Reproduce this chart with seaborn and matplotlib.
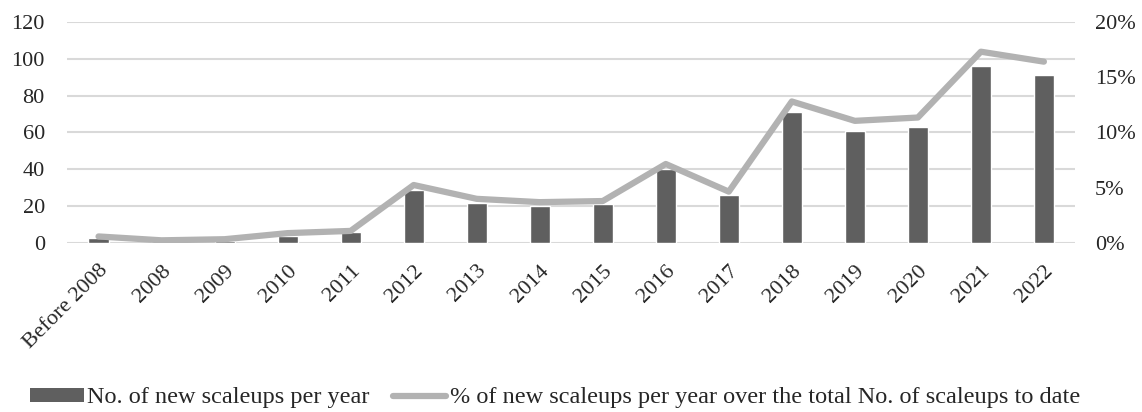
import matplotlib
matplotlib.use("Agg")
import matplotlib.pyplot as plt
import seaborn as sns
import pandas as pd
from matplotlib.patches import Patch
from matplotlib.lines import Line2D
from matplotlib.ticker import FuncFormatter

years = ["Before 2008", "2008", "2009", "2010", "2011", "2012", "2013", "2014",
         "2015", "2016", "2017", "2018", "2019", "2020", "2021", "2022"]
new_scaleups = [3, 0.5, 1, 4, 6, 29, 22, 20, 21, 40, 26, 71, 61, 63, 96, 91]
share_pct = [0.6, 0.25, 0.35, 0.9, 1.1, 5.25, 4.0, 3.7, 3.8, 7.15, 4.65,
             12.8, 11.05, 11.35, 17.3, 16.4]

bar_label = "No. of new scaleups per year"
line_label = "% of new scaleups per year over the total No. of scaleups to date"

sns.set_theme(style="white")
plt.rcParams["font.family"] = ["Liberation Serif", "DejaVu Serif"]

df = pd.DataFrame({"year": years, "n": new_scaleups, "pct": share_pct})

fig = plt.figure(figsize=(11.42, 4.12), dpi=100)
ax = fig.add_axes([0.0587, 0.41, 0.883, 0.537])

bar_color = "#5f5f5f"
line_color = "#b2b2b2"
grid_color = "#d9d9d9"
tick_fs = 16

sns.barplot(data=df, x="year", y="n", color=bar_color, width=0.32,
            saturation=1, ax=ax, zorder=2)
ax.set_ylim(0, 120)
ax.set_yticks(range(0, 121, 20))
ax.set_xlim(-0.5, len(years) - 0.5)
ax.grid(axis="y", color=grid_color, linewidth=1.5, zorder=0)
ax.set_axisbelow(True)
ax.set_xlabel("")
ax.set_ylabel("")
ax.tick_params(axis="y", labelsize=tick_fs, length=0, pad=16)
ax.tick_params(axis="x", labelsize=tick_fs, length=0, pad=13)
for lbl in ax.get_xticklabels():
    lbl.set_rotation(45)
    lbl.set_ha("right")
    lbl.set_rotation_mode("anchor")
for s in ax.spines.values():
    s.set_visible(False)

ax2 = ax.twinx()
sns.lineplot(x=list(range(len(years))), y=share_pct, ax=ax2, color=line_color,
             linewidth=4.5, zorder=3)
ax2.set_ylim(0, 20)
ax2.set_yticks(range(0, 21, 5))
ax2.yaxis.set_major_formatter(FuncFormatter(lambda v, p: f"{int(v)}%"))
ax2.tick_params(axis="y", labelsize=tick_fs, length=0, pad=14)
for s in ax2.spines.values():
    s.set_visible(False)

handles = [Patch(facecolor=bar_color, edgecolor="none"),
           Line2D([0], [0], color=line_color, linewidth=4.5)]
fig.legend(handles, [bar_label, line_label], loc="center",
           bbox_to_anchor=(0.486, 0.034), ncol=2, frameon=False, fontsize=17.5,
           handlelength=2.2, handleheight=0.5, handletextpad=0.15,
           columnspacing=0.95, borderpad=0)

fig.savefig("out.png", dpi=100)
